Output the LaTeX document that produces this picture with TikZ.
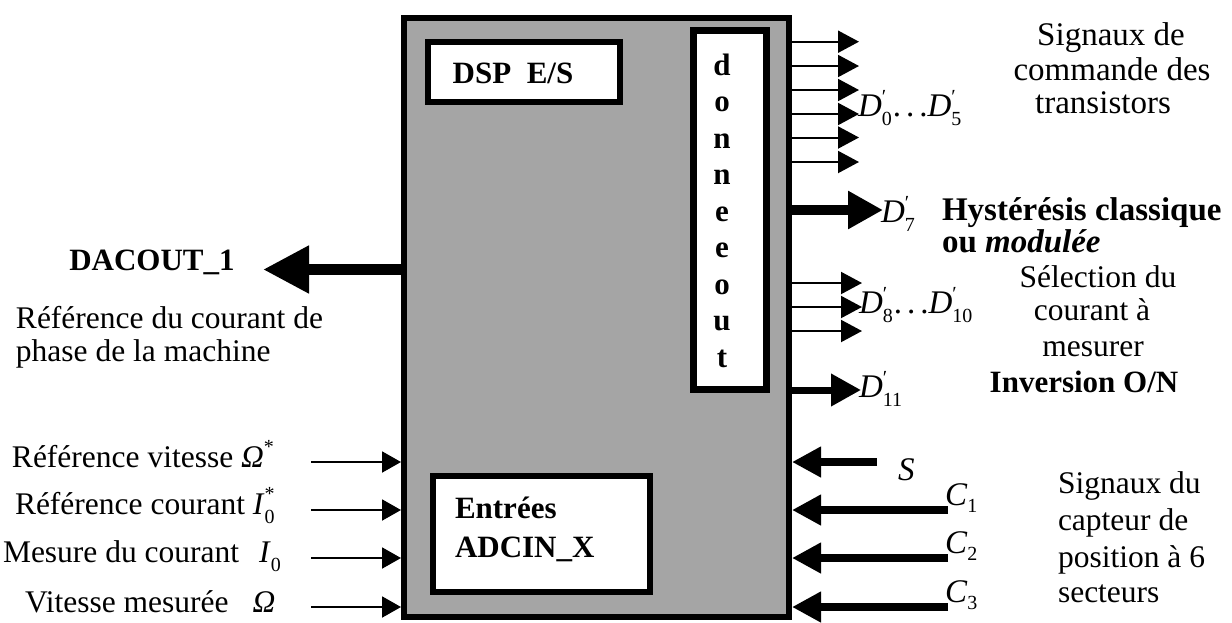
\documentclass[tikz,border=0pt]{standalone}
\usepackage{fontspec}
\setmainfont{Liberation Serif}
\usetikzlibrary{arrows.meta}
\definecolor{boxgray}{RGB}{165,165,165}
\newcommand{\subsz}{\fontsize{20}{20}\selectfont}
\newcommand{\Dq}[1]{\textit{D}\rlap{\raisebox{13pt}{\subsz\symbol{"2032}}}\raisebox{-9pt}{\subsz #1}}
\newcommand{\Ist}[2]{\textit{I}\rlap{\raisebox{14pt}{\subsz #1}}\raisebox{-9pt}{\subsz #2}}
\newcommand{\Csub}[1]{\textit{C}\raisebox{-7pt}{\subsz #1}}
\newcommand{\mydots}{\hspace{1pt}.\hspace{5pt}.\hspace{5pt}.\hspace{0pt}}
\begin{document}
\begin{tikzpicture}[x=1pt,y=-1pt,
  txt/.style={inner sep=0pt, outer sep=0pt, font=\fontsize{31.5}{34}\selectfont},
  bigtxt/.style={inner sep=0pt, outer sep=0pt, font=\fontsize{33}{34}\selectfont},
  mtxt/.style={inner sep=0pt, outer sep=0pt, font=\fontsize{33}{34}\selectfont},
  btxt/.style={inner sep=0pt, outer sep=0pt, font=\fontsize{31}{34}\selectfont\bfseries},
  bbtxt/.style={inner sep=0pt, outer sep=0pt, font=\fontsize{33}{34}\selectfont\bfseries},
  mainbox/.style={draw, line width=6pt, outer sep=3pt, inner sep=0pt, fill=boxgray},
  wbox/.style={draw, line width=6pt, outer sep=3pt, inner sep=0pt, fill=white},
  thinout/.style={line width=2pt, -{Triangle[length=21pt,width=22pt]}},
  thickout/.style={line width=10pt, -{Triangle[length=35pt,width=36pt]}},
  medout/.style={line width=7pt, -{Triangle[length=30pt,width=31pt]}},
  dacarrow/.style={line width=11pt, -{Triangle[length=46pt,width=45pt]}},
  thinin/.style={line width=2pt, -{Triangle[length=19pt,width=21pt]}},
  thickin/.style={line width=8pt, -{Triangle[length=29pt,width=29pt]}},
]
\useasboundingbox (0,0) rectangle (1232,622);

% main DSP block
\node[mainbox, anchor=north west, minimum width=385pt, minimum height=599pt] (dsp) at (401,15) {};
% inner boxes
\node[wbox, anchor=north west, minimum width=192pt, minimum height=60pt] (es) at (425,39) {};
\node[btxt, anchor=base] (estxt) at (513,83) {DSP\ \ E/S};
\node[wbox, line width=7pt, outer sep=3.5pt, anchor=north west, minimum width=73pt, minimum height=359pt] (dout) at (690,27) {};
\foreach \l [count=\i from 0] in {d,o,n,n,e,e,o,u,t}
  \node[btxt, anchor=base] (dl\i) at (722,75+36.5*\i) {\l};
\node[wbox, anchor=north west, minimum width=217pt, minimum height=116pt] (adc) at (430,473) {};
\node[btxt, anchor=base west] (adc1) at (455,518) {Entrées};
\node[btxt, anchor=base west] (adc2) at (455,557) {ADCIN\_X};

% outputs D0..D5
\foreach \yy [count=\i] in {41.7,66,90,114,137.5,162}{
  \coordinate (o\i) at (859,\yy);
  \draw[thinout] (dsp.east |- o\i) -- (o\i);
}
\node[mtxt, anchor=base west] (d05) at (858,116) {\Dq{0}\mydots\Dq{5}};
% D7
\coordinate (o7) at (883,210);
\draw[thickout] (dsp.east |- o7) -- (o7);
\node[mtxt, anchor=base west] (d7) at (881,222) {\Dq{7}};
% D8..D10
\foreach \yy [count=\i from 8] in {283,307,331}{
  \coordinate (o\i) at (862,\yy);
  \draw[thinout] (dsp.east |- o\i) -- (o\i);
}
\node[mtxt, anchor=base west] (d810) at (859,313) {\Dq{8}\mydots\Dq{10}};
% D11
\coordinate (o11) at (861,390);
\draw[medout] (dsp.east |- o11) -- (o11);
\node[mtxt, anchor=base west] (d11) at (859,397) {\Dq{11}};

% right-hand texts
\node[bigtxt, anchor=base] (sg1) at (1111,45) {Signaux de};
\node[bigtxt, anchor=base] (sg2) at (1112,80) {commande des};
\node[bigtxt, anchor=base] (sg3) at (1103,113) {transistors};
\node[bbtxt, anchor=base west] (hy1) at (942,220) {Hystérésis classique};
\node[bbtxt, anchor=base west] (hy2) at (942,252) {ou \textit{modulée}};
\node[txt, anchor=base] (se1) at (1098,287) {Sélection du};
\node[txt, anchor=base] (se2) at (1092,320) {courant à};
\node[txt, anchor=base] (se3) at (1093,356) {mesurer};
\node[btxt, anchor=base] (inv) at (1084,392) {Inversion O/N};

% right inputs
\coordinate (iS) at (877,462);
\draw[thickin] (iS) -- (iS -| dsp.east);
\node[mtxt, anchor=base west] (lS) at (898,480) {\textit{S}};
\foreach \yy [count=\i] in {510,558,607}{
  \coordinate (ic\i) at (948,\yy);
  \draw[thickin] (ic\i) -- (ic\i -| dsp.east);
}
\node[mtxt, anchor=base west] (lc1) at (945,505) {\Csub{1}};
\node[mtxt, anchor=base west] (lc2) at (945,553) {\Csub{2}};
\node[mtxt, anchor=base west] (lc3) at (945,602) {\Csub{3}};
\node[txt, anchor=base west] (cp1) at (1058,493) {Signaux du};
\node[txt, anchor=base west] (cp2) at (1058,530) {capteur de};
\node[txt, anchor=base west] (cp3) at (1058,567) {position à 6};
\node[txt, anchor=base west] (cp4) at (1058,602) {secteurs};

% DACOUT
\coordinate (dac) at (263,269.5);
\draw[dacarrow] (dsp.west |- dac) -- (dac);
\node[btxt, anchor=base] (dactxt) at (152,270) {DACOUT\_1};
\node[txt, anchor=base west] (ref1) at (16,328) {Référence du courant de};
\node[txt, anchor=base west] (ref2) at (16,361) {phase de la machine};

% left inputs
\foreach \yy [count=\i] in {462,510,558,607}{
  \coordinate (li\i) at (311,\yy);
  \draw[thinin] (li\i) -- (li\i -| dsp.west);
}
\node[txt, anchor=base west] (lt1) at (12,467) {Référence vitesse \textit{Ω}\raisebox{14pt}{\subsz *}};
\node[txt, anchor=base west] (lt2) at (15,514) {Référence courant \Ist{*}{0}};
\node[txt, anchor=base west] (lt3) at (3,562) {Mesure du courant\hspace{20pt}\Ist{}{0}};
\node[txt, anchor=base west] (lt4) at (25,612) {Vitesse mesurée\hspace{24pt}\textit{Ω}};
\end{tikzpicture}
\end{document}
